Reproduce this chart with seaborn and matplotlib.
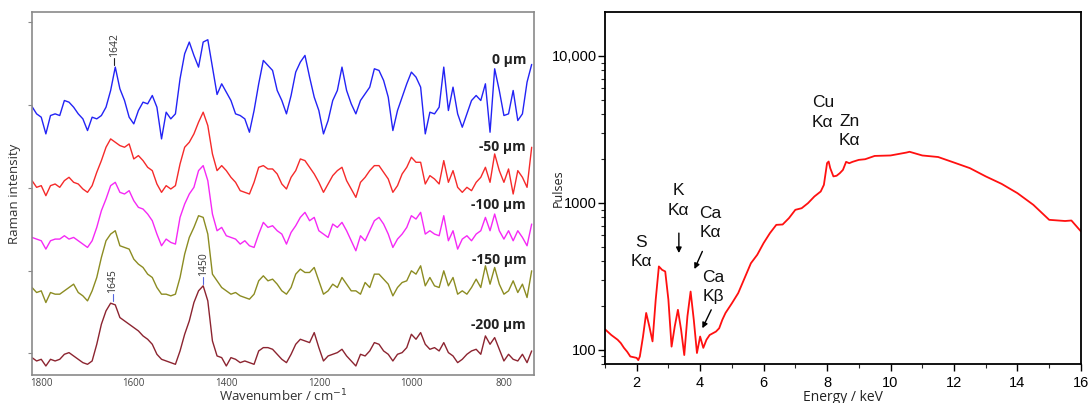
import numpy as np
import pandas as pd
import matplotlib
matplotlib.use("Agg")
import matplotlib.pyplot as plt
import seaborn as sns
from matplotlib.ticker import FixedLocator, FuncFormatter, LogLocator, NullFormatter, MultipleLocator

# ---------------- data: Raman spectra (left) ----------------
wavenumber = np.arange(1820, 739, -10)  # sampling grid, cm-1

depths = ["0 \u00b5m", "-50 \u00b5m", "-100 \u00b5m", "-150 \u00b5m", "-200 \u00b5m"]
offsets = [700, 520, 360, 200, 0]

raman_0 = [104, 82, 72, 22, 77, 82, 77, 122, 117, 102,
           82, 67, 32, 72, 67, 77, 102, 152, 222, 157,
           122, 72, 52, 92, 117, 112, 137, 102, 7, 87,
           67, 82, 187, 262, 297, 257, 222, 297, 304, 222,
           140, 172, 147, 122, 82, 77, 67, 27, 92, 172,
           242, 227, 212, 152, 122, 82, 137, 207, 237, 257,
           192, 132, 92, 22, 62, 122, 152, 222, 152, 112,
           82, 122, 142, 162, 217, 212, 182, 132, 32, 92,
           132, 172, 207, 192, 162, 22, 87, 82, 102, 222,
           92, 162, 82, 42, 82, 122, 137, 122, 172, 27,
           217, 152, 77, 82, 152, 62, 82, 177, 230]
raman_50 = [62, 42, 47, 17, 47, 52, 42, 62, 72, 57,
            52, 37, 27, 47, 87, 122, 162, 187, 177, 167,
            162, 172, 127, 137, 122, 102, 92, 52, 27, 47,
            37, 47, 112, 162, 177, 202, 237, 267, 227, 142,
            92, 107, 92, 72, 57, 32, 27, 22, 57, 102,
            107, 97, 97, 82, 52, 37, 72, 92, 127, 122,
            102, 82, 57, 27, 52, 77, 92, 102, 62, 37,
            12, 57, 72, 92, 107, 107, 87, 67, 27, 47,
            82, 102, 132, 117, 117, 52, 77, 67, 52, 122,
            57, 92, 42, 27, 42, 32, 57, 72, 102, 57,
            142, 92, 57, 97, 22, 92, 72, 42, 162]
raman_100 = [52, 47, 42, 17, 42, 47, 47, 57, 47, 52,
             42, 32, 22, 42, 82, 132, 167, 207, 217, 187,
             182, 192, 162, 142, 137, 122, 102, 62, 27, 47,
             37, 32, 112, 152, 182, 202, 252, 267, 222, 122,
             72, 82, 57, 52, 47, 32, 42, 27, 22, 62,
             97, 82, 87, 72, 62, 32, 67, 87, 112, 127,
             102, 112, 72, 62, 52, 92, 82, 97, 72, 42,
             12, 57, 42, 72, 102, 112, 92, 62, 22, 47,
             62, 82, 117, 107, 127, 62, 72, 62, 57, 117,
             42, 72, 17, 47, 57, 42, 62, 72, 112, 72,
             122, 72, 47, 72, 42, 72, 52, 27, 92]
raman_150 = [62, 47, 52, 17, 47, 42, 42, 52, 62, 72,
             47, 37, 22, 52, 92, 152, 202, 222, 232, 187,
             182, 177, 147, 132, 122, 102, 92, 62, 42, 42,
             37, 42, 92, 162, 212, 242, 277, 272, 222, 102,
             82, 62, 52, 42, 47, 37, 32, 27, 42, 82,
             97, 82, 87, 72, 52, 42, 62, 102, 117, 107,
             107, 122, 82, 42, 52, 72, 62, 92, 72, 52,
             52, 42, 77, 62, 102, 102, 87, 72, 37, 62,
             77, 82, 112, 102, 127, 67, 92, 67, 62, 112,
             67, 92, 42, 52, 42, 62, 87, 62, 127, 72,
             122, 72, 42, 52, 82, 47, 72, 32, 112]
raman_200 = [52, 42, 47, 27, 47, 42, 47, 62, 67, 57,
             47, 37, 32, 42, 92, 152, 192, 215, 210, 172,
             162, 152, 142, 132, 117, 107, 92, 62, 47, 42,
             37, 32, 72, 122, 162, 217, 252, 267, 222, 102,
             57, 52, 27, 52, 47, 37, 42, 37, 32, 72,
             82, 82, 77, 62, 47, 37, 62, 92, 107, 102,
             97, 127, 82, 42, 57, 62, 67, 77, 57, 42,
             27, 62, 57, 72, 97, 92, 72, 62, 42, 62,
             67, 82, 122, 107, 127, 92, 77, 82, 72, 97,
             67, 57, 37, 47, 62, 72, 77, 62, 117, 92,
             112, 77, 42, 62, 47, 42, 62, 37, 72]
raman_series = [raman_0, raman_50, raman_100, raman_150, raman_200]
raman_colors = ["#2323f5", "#f52a2a", "#f529f5", "#8c8c22", "#8c2430"]
label_y = [944, 682, 510, 344, 150]
raman_xticks = [1800, 1600, 1400, 1200, 1000, 800]
raman_yticks = [65, 312, 559, 810, 1057]

# ---------------- data: XRF spectrum (right) ----------------
energy = [1.0, 1.2, 1.4, 1.5, 1.6, 1.7, 1.8, 1.9, 2.0, 2.05, 2.1, 2.2, 2.3, 2.4,
          2.5, 2.6, 2.7, 2.8, 2.9, 3.0, 3.1, 3.2, 3.3, 3.4, 3.5, 3.6, 3.7, 3.8,
          3.9, 4.0, 4.1, 4.2, 4.3, 4.5, 4.6, 4.7, 4.8, 5.0, 5.2, 5.4, 5.6, 5.8,
          6.0, 6.2, 6.4, 6.6, 6.8, 7.0, 7.2, 7.4, 7.6, 7.8, 7.9, 8.0, 8.05, 8.1,
          8.2, 8.3, 8.4, 8.5, 8.6, 8.7, 8.8, 9.0, 9.2, 9.5, 10.0, 10.5, 10.6,
          11.0, 11.5, 12.0, 12.5, 13.0, 13.5, 14.0, 14.5, 15.0, 15.5, 15.7, 16.0]
pulses = [138, 126, 117, 111, 103, 97, 90, 89, 88, 85, 90, 123, 178, 144,
          114, 219, 369, 350, 341, 219, 105, 144, 187, 137, 92, 169, 249, 160,
          95, 123, 103, 117, 126, 133, 140, 160, 178, 207, 243, 307, 388, 443,
          532, 622, 708, 712, 787, 896, 919, 995, 1104, 1194, 1325, 1862, 1910, 1722,
          1513, 1528, 1590, 1675, 1900, 1860, 1900, 1960, 1980, 2085, 2100, 2198, 2225,
          2100, 2050, 1880, 1722, 1513, 1346, 1163, 969, 766, 752, 758, 639]
xrf_ytick_values = [100, 1000, 10000]
xrf_ytick_labels = ["100", "1000", "10,000"]
xrf_xticks = [2, 4, 6, 8, 10, 12, 14, 16]

# element labels: text, x, y
element_labels = [("S\nK\u03b1", 2.15, 464), ("K\nK\u03b1", 3.33, 1038),
                  ("Ca\nK\u03b1", 4.33, 728), ("Ca\nK\u03b2", 4.41, 266),
                  ("Cu\nK\u03b1", 7.87, 4120), ("Zn\nK\u03b1", 8.71, 3090)]
# arrows: (x_from, y_from, x_to, y_to)
element_arrows = [(3.33, 622, 3.33, 455), (4.07, 467, 3.82, 354), (4.35, 187, 4.07, 140)]

# ---------------- figure ----------------
sns.set_style("white")
plt.rcParams["font.family"] = ["Open Sans", "DejaVu Sans"]
arial = ["Liberation Sans", "DejaVu Sans"]

fig = plt.figure(figsize=(10.88, 4.03), dpi=100)

# Left panel
ax1 = fig.add_axes([0.0294, 0.0695, 0.4614, 0.9007])
frames = []
for name, vals, off in zip(depths, raman_series, offsets):
    frames.append(pd.DataFrame({"wavenumber": wavenumber,
                                "intensity": np.array(vals) + off,
                                "depth": name}))
df_r = pd.concat(frames, ignore_index=True)
sns.lineplot(data=df_r, x="wavenumber", y="intensity", hue="depth",
             palette=dict(zip(depths, raman_colors)), estimator=None,
             legend=False, linewidth=1.0, ax=ax1)
ax1.set_xlim(1820, 735)
ax1.set_ylim(0, 1087)
ax1.set_xticks(raman_xticks)
ax1.set_xticklabels([str(t) for t in raman_xticks])
ax1.set_yticks(raman_yticks)
ax1.set_yticklabels([])
ax1.tick_params(axis="x", length=0, labelsize=7, colors="#444444", pad=2)
ax1.tick_params(axis="y", length=3, width=0.8, colors="#888888", direction="out", left=True)
for s in ax1.spines.values():
    s.set_color("#8a8a8a")
    s.set_linewidth(1.2)
ax1.set_xlabel("Wavenumber / cm$^{-1}$", fontsize=9.5, color="#333333")
ax1.xaxis.set_label_coords(0.5, -0.036)
ax1.set_ylabel("Raman intensity", fontsize=9.5, color="#333333")
ax1.yaxis.set_label_coords(-0.022, 0.5)

for name, y in zip(depths, label_y):
    ax1.text(752, y, name, ha="right", va="center", fontsize=10,
             fontweight="bold", color="#222222")

# peak markers
peak_marks = [(1642, 927, "1642", "#222222"), (1645, 222, "1645", "#5566dd"),
              (1450, 272, "1450", "#5566dd")]
for w, ytop, lab, lc in peak_marks:
    ax1.plot([w, w], [ytop, ytop + 22], color=lc, lw=0.8)
    ax1.text(w, ytop + 24, lab, rotation=90, ha="center", va="bottom",
             fontsize=7.5, color="#333333")

# Right panel
ax2 = fig.add_axes([0.556, 0.0968, 0.4375, 0.8727])
df_x = pd.DataFrame({"energy": energy, "pulses": pulses})
sns.lineplot(data=df_x, x="energy", y="pulses", color="#ff1010",
             linewidth=1.3, estimator=None, ax=ax2)
ax2.set_yscale("log")
ax2.set_xlim(1, 16)
ax2.set_ylim(80, 19800)
ax2.xaxis.set_major_locator(FixedLocator(xrf_xticks))
ax2.xaxis.set_minor_locator(MultipleLocator(1))
ax2.yaxis.set_major_locator(FixedLocator(xrf_ytick_values))
lab_map = dict(zip(xrf_ytick_values, xrf_ytick_labels))
ax2.yaxis.set_major_formatter(FuncFormatter(lambda v, p: lab_map.get(int(round(v)), "")))
ax2.yaxis.set_minor_locator(LogLocator(base=10, subs=np.arange(2, 10)))
ax2.yaxis.set_minor_formatter(NullFormatter())
ax2.tick_params(which="major", direction="out", length=5, width=1.0, labelsize=10.5,
                colors="black", bottom=True, left=True)
ax2.tick_params(which="minor", direction="out", length=3, width=0.8,
                bottom=True, left=True)
ax2.tick_params(axis="y", which="major", pad=1)
for lbl in ax2.get_xticklabels() + ax2.get_yticklabels():
    lbl.set_family(arial)
for s in ax2.spines.values():
    s.set_color("black")
    s.set_linewidth(1.3)
ax2.set_xlabel("Energy / keV", fontsize=10, color="#222222", labelpad=0)
ax2.set_ylabel("Pulses", fontsize=9, color="#222222")
ax2.yaxis.set_label_coords(-0.084, 0.5)

for txt, x, y in element_labels:
    ax2.text(x, y, txt, ha="center", va="center", fontsize=12.5,
             family=arial, linespacing=1.35, color="#111111")
for x0, y0, x1, y1 in element_arrows:
    ax2.annotate("", xy=(x1, y1), xytext=(x0, y0),
                 arrowprops=dict(arrowstyle="-|>", color="black", lw=1.0,
                                 mutation_scale=8, shrinkA=0, shrinkB=0))

fig.savefig("out.png", dpi=100)
